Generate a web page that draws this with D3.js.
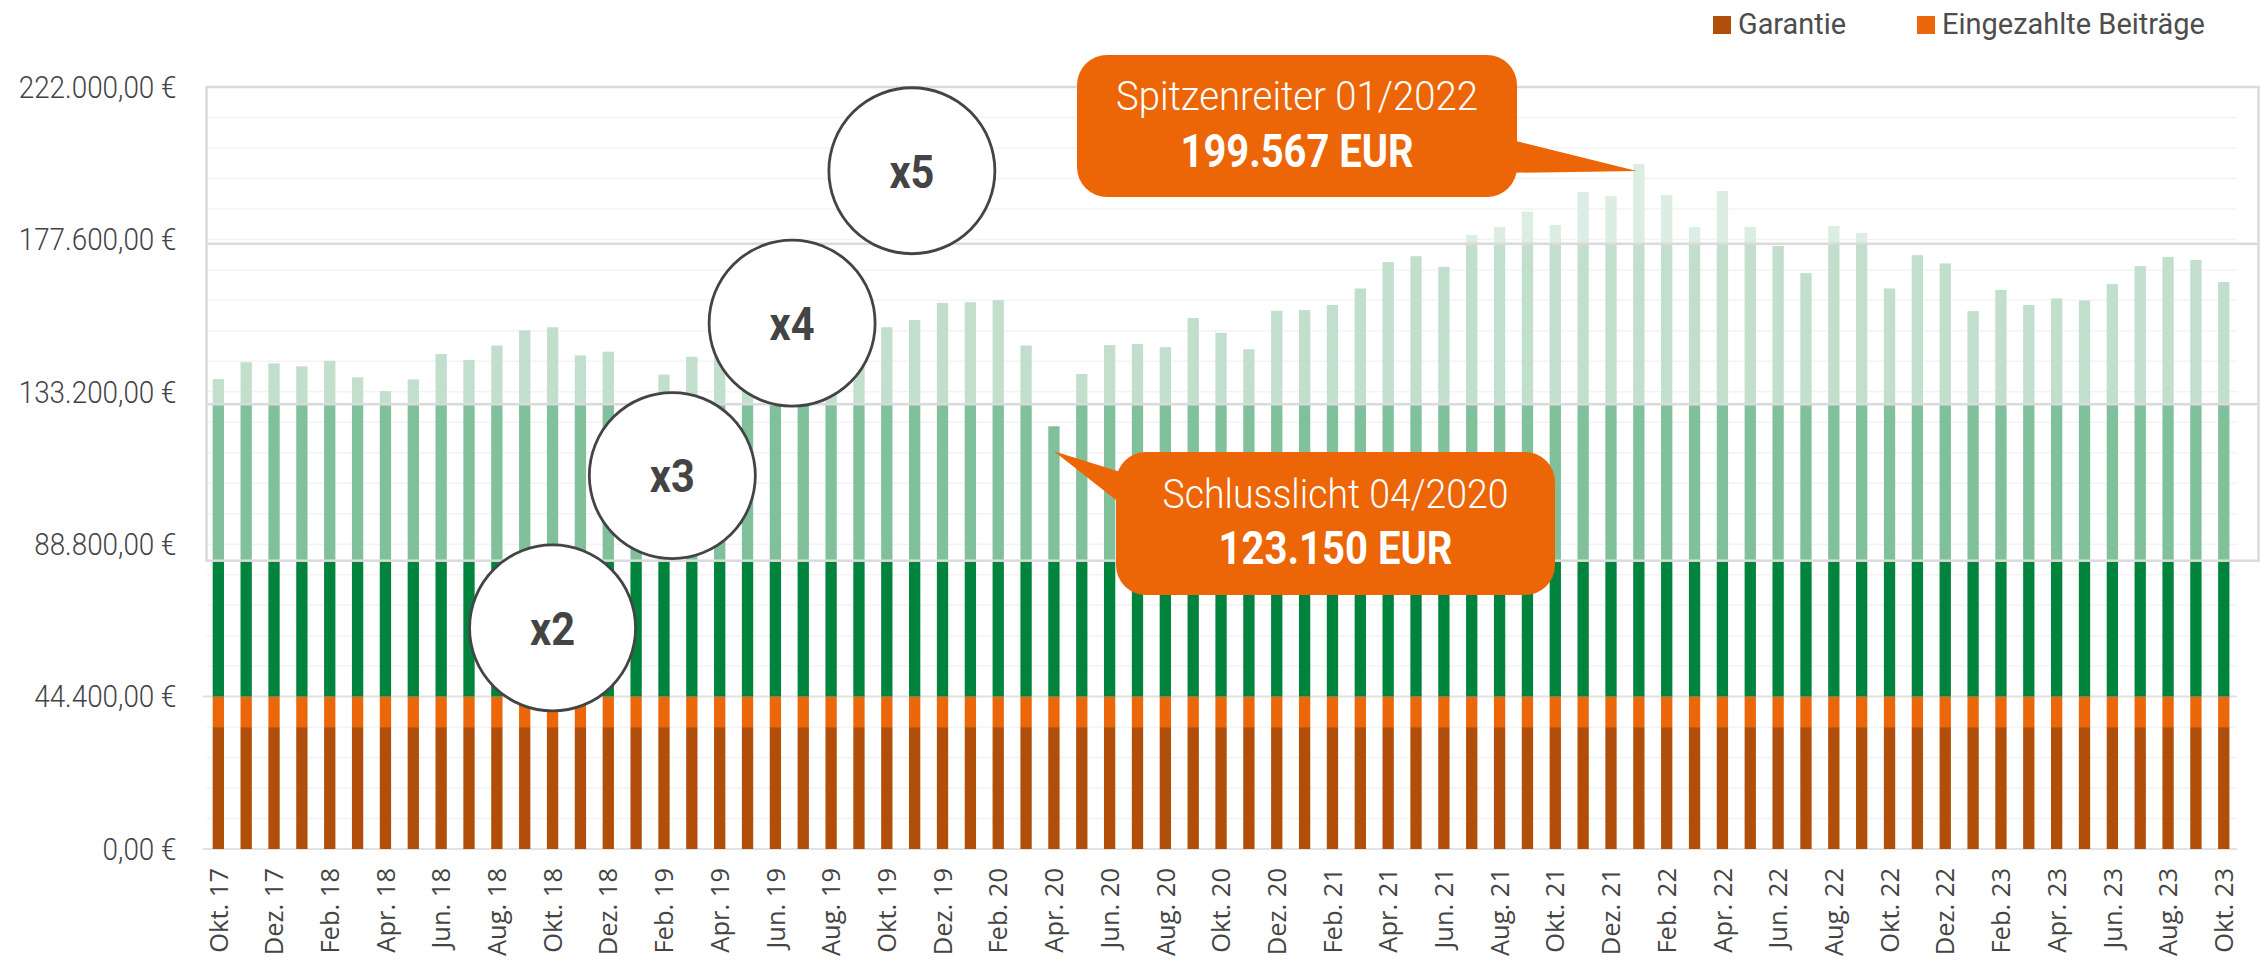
<!DOCTYPE html>
<html>
<head>
<meta charset="utf-8">
<script src="https://cdn.jsdelivr.net/npm/d3@7"></script>
<style>
  html, body { margin: 0; padding: 0; background: #fff; }
  svg { display: block; }
</style>
</head>
<body>
<svg id="chart"></svg>
<script>
// month labels, Okt. 17 .. Okt. 23
const months = [
  "Okt. 17","Nov. 17","Dez. 17",
  "Jan. 18","Feb. 18","Mär. 18","Apr. 18","Mai 18","Jun. 18","Jul. 18","Aug. 18","Sep. 18","Okt. 18","Nov. 18","Dez. 18",
  "Jan. 19","Feb. 19","Mär. 19","Apr. 19","Mai 19","Jun. 19","Jul. 19","Aug. 19","Sep. 19","Okt. 19","Nov. 19","Dez. 19",
  "Jan. 20","Feb. 20","Mär. 20","Apr. 20","Mai 20","Jun. 20","Jul. 20","Aug. 20","Sep. 20","Okt. 20","Nov. 20","Dez. 20",
  "Jan. 21","Feb. 21","Mär. 21","Apr. 21","Mai 21","Jun. 21","Jul. 21","Aug. 21","Sep. 21","Okt. 21","Nov. 21","Dez. 21",
  "Jan. 22","Feb. 22","Mär. 22","Apr. 22","Mai 22","Jun. 22","Jul. 22","Aug. 22","Sep. 22","Okt. 22","Nov. 22","Dez. 22",
  "Jan. 23","Feb. 23","Mär. 23","Apr. 23","Mai 23","Jun. 23","Jul. 23","Aug. 23","Sep. 23","Okt. 23"
];

// depot value per month (EUR)
const depotValues = [
  136900, 141800, 141500,
  140600, 142200, 137400, 133400, 136800, 144200, 142500, 146700, 151100, 152000, 143800, 144900,
  128000, 138200, 143400, 143500, 147000, 149500, 150500, 148000, 149000, 152000, 154100, 159100,
  159300, 159900, 146700, 123150, 138400, 146800, 147100, 146200, 154700, 150400, 145600, 156800,
  157000, 158500, 163300, 171000, 172700, 169600, 178900, 181200, 185700, 181800, 191400, 190200,
  199567, 190500, 181200, 191700, 181200, 175700, 167800, 181500, 179500, 163300, 173000, 170600,
  156700, 162900, 158500, 160400, 159800, 164600, 169800, 172500, 171600, 165200
];

// colour bands of each column (upper bound of each band)
const bandKeys = ["garantie", "beitraege", "x2", "x3", "x4", "x5"];
const bandTops = [35520, 44400, 84000, 129600, 176300, Infinity];
const bandColors = ["#b14f0a", "#ec6709", "#00843d", "#80c09b", "#c2dfcd", "#dcede3"];

const yTicks = [0, 44400, 88800, 133200, 177600, 222000];
const minorStep = 8880;

const legendLabels = ["Garantie", "Eingezahlte Beiträge"];

const multiplierLabels = ["x2", "x3", "x4", "x5"];
const multiplierAt = [12, 16.3, 20.6, 24.9];      // position in months
const multiplierLevel = [64400, 108800, 153200, 197600];

const peak = { month: "Jan. 22", value: 199567, title: "Spitzenreiter 01/2022", amount: "199.567 EUR" };
const low = { month: "Apr. 20", value: 123150, title: "Schlusslicht 04/2020", amount: "123.150 EUR" };

const svgWidth = 2265;
const svgHeight = 962;
const plotLeft = 206.5;
const gridRight = 2237;
const boxRight = 2258.5;

const svg = d3.select("#chart").attr("width", svgWidth).attr("height", svgHeight);

const x = d3.scaleBand()
  .domain(months)
  .range([204.4, 2237.7])
  .paddingInner(0.594)
  .paddingOuter(0.297);

const y = d3.scaleLinear().domain([0, 222000]).range([849, 87]);

const de = d3.formatLocale({ decimal: ",", thousands: ".", grouping: [3], currency: ["", " €"] });
const euro = de.format("$,.2f");

const condensed = "Roboto, 'Open Sans', sans-serif";

// squeeze a text to a given width
const fit = (sel, w) => sel.attr("textLength", w).attr("lengthAdjust", "spacingAndGlyphs");

// minor gridlines
svg.append("g")
  .selectAll("line")
  .data(d3.range(minorStep, 222000, minorStep))
  .join("line")
  .attr("x1", plotLeft).attr("x2", gridRight)
  .attr("y1", (d) => y(d)).attr("y2", (d) => y(d))
  .attr("stroke", "#f3f3f3")
  .attr("stroke-width", 1.5);

// lower major gridlines
svg.append("g")
  .selectAll("line")
  .data([0, 44400])
  .join("line")
  .attr("x1", plotLeft - 4).attr("x2", gridRight)
  .attr("y1", (d) => y(d)).attr("y2", (d) => y(d))
  .attr("stroke", "#e2e2e2")
  .attr("stroke-width", 2);

// split every column into its colour bands
const rows = months.map((m, i) => {
  const row = { month: m };
  let lo = 0;
  bandKeys.forEach((k, j) => {
    const hi = bandTops[j];
    row[k] = Math.max(0, Math.min(depotValues[i], hi) - lo);
    lo = hi;
  });
  return row;
});

const stacked = d3.stack().keys(bandKeys)(rows);

svg.append("g")
  .selectAll("g")
  .data(stacked)
  .join("g")
  .attr("fill", (d, i) => bandColors[i])
  .selectAll("rect")
  .data((d) => d.filter((p) => p[1] > p[0]))
  .join("rect")
  .attr("x", (d) => x(d.data.month))
  .attr("width", x.bandwidth())
  .attr("y", (d) => y(d[1]))
  .attr("height", (d) => y(d[0]) - y(d[1]));

// box round the upper part plus its band lines
const boxG = svg.append("g").attr("fill", "none").attr("stroke", "#dadada").attr("stroke-width", 2.5);
boxG.append("rect")
  .attr("x", plotLeft)
  .attr("y", y(222000))
  .attr("width", boxRight - plotLeft)
  .attr("height", y(bandTops[2]) - y(222000));
boxG.selectAll("line")
  .data([bandTops[3], bandTops[4]])
  .join("line")
  .attr("x1", plotLeft).attr("x2", boxRight)
  .attr("y1", (d) => y(d)).attr("y2", (d) => y(d));

// y axis
const yAxis = svg.append("g")
  .attr("transform", `translate(${plotLeft},0)`)
  .call(d3.axisLeft(y).tickValues(yTicks).tickFormat(euro).tickSize(0).tickPadding(30));
yAxis.select(".domain").remove();
yAxis.selectAll("text")
  .style("font-family", condensed)
  .style("font-size", "32px")
  .style("font-weight", 300)
  .attr("fill", "#444")
  .each(function () {
    fit(d3.select(this), this.getComputedTextLength() * 0.87);
  });

// x axis
const xAxis = svg.append("g")
  .attr("transform", `translate(0,${y(0)})`)
  .call(d3.axisBottom(x).tickValues(months.filter((d, i) => i % 2 === 0)).tickSize(0));
xAxis.select(".domain").remove();
xAxis.selectAll("text")
  .attr("transform", "rotate(-90)")
  .attr("x", -19)
  .attr("y", 0)
  .attr("dy", "0.36em")
  .style("text-anchor", "end")
  .style("font-family", "'Open Sans', sans-serif")
  .style("font-size", "25.5px")
  .attr("fill", "#444");

// multiplier circles
const xAt = (pos) => x(months[0]) + x.bandwidth() / 2 + pos * x.step();
const circles = svg.append("g")
  .selectAll("g")
  .data(multiplierLabels)
  .join("g")
  .attr("transform", (d, i) => `translate(${xAt(multiplierAt[i])},${y(multiplierLevel[i])})`);
circles.append("circle")
  .attr("r", 83)
  .attr("fill", "#fff")
  .attr("stroke", "#444")
  .attr("stroke-width", 2.8);
circles.append("text")
  .text((d) => d)
  .attr("text-anchor", "middle")
  .attr("dy", "0.36em")
  .style("font-family", condensed)
  .style("font-weight", 700)
  .style("font-size", "47px")
  .attr("fill", "#444")
  .call(fit, 45);

// callouts
const orange = "#ec6608";
const callout = (c, box, tipDx, tipDy, baseY, titleW, amountW) => {
  const tx = x(c.month) + x.bandwidth() / 2 + tipDx;
  const ty = y(c.value) + tipDy;
  const g = svg.append("g");
  g.append("rect")
    .attr("x", box.x).attr("y", box.y)
    .attr("width", box.w).attr("height", box.h)
    .attr("rx", 30)
    .attr("fill", orange);
  g.append("path")
    .attr("d", d3.line()(box.pointer.concat([[tx, ty]]).concat(box.pointer2)))
    .attr("fill", orange);
  const cx = box.x + box.w / 2;
  g.append("text")
    .text(c.title)
    .attr("x", cx).attr("y", baseY)
    .attr("text-anchor", "middle")
    .style("font-family", condensed)
    .style("font-weight", 300)
    .style("font-size", "40px")
    .attr("fill", "#fff")
    .call(fit, titleW);
  g.append("text")
    .text(c.amount)
    .attr("x", cx).attr("y", baseY + 56.5)
    .attr("text-anchor", "middle")
    .style("font-family", condensed)
    .style("font-weight", 700)
    .style("font-size", "46px")
    .attr("fill", "#fff")
    .call(fit, amountW);
};

callout(peak,
  { x: 1077, y: 55, w: 440, h: 142, pointer: [[1500, 137]], pointer2: [[1500, 173]] },
  -2, 7, 110, 362, 233);
callout(low,
  { x: 1116, y: 452, w: 439, h: 143, pointer: [[1130, 475]], pointer2: [[1130, 511]] },
  0, 25, 507.5, 346, 234);

// legend
const legend = svg.append("g")
  .selectAll("g")
  .data(legendLabels)
  .join("g")
  .attr("transform", (d, i) => `translate(${i === 0 ? 1713 : 1917},16)`);
legend.append("rect")
  .attr("width", 18).attr("height", 18)
  .attr("fill", (d, i) => bandColors[i]);
legend.append("text")
  .text((d) => d)
  .attr("x", 25).attr("y", 17.5)
  .style("font-family", condensed)
  .style("font-size", "30px")
  .attr("fill", "#4d4d4d")
  .each(function (d, i) {
    fit(d3.select(this), i === 0 ? 108 : 263);
  });
</script>
</body>
</html>
